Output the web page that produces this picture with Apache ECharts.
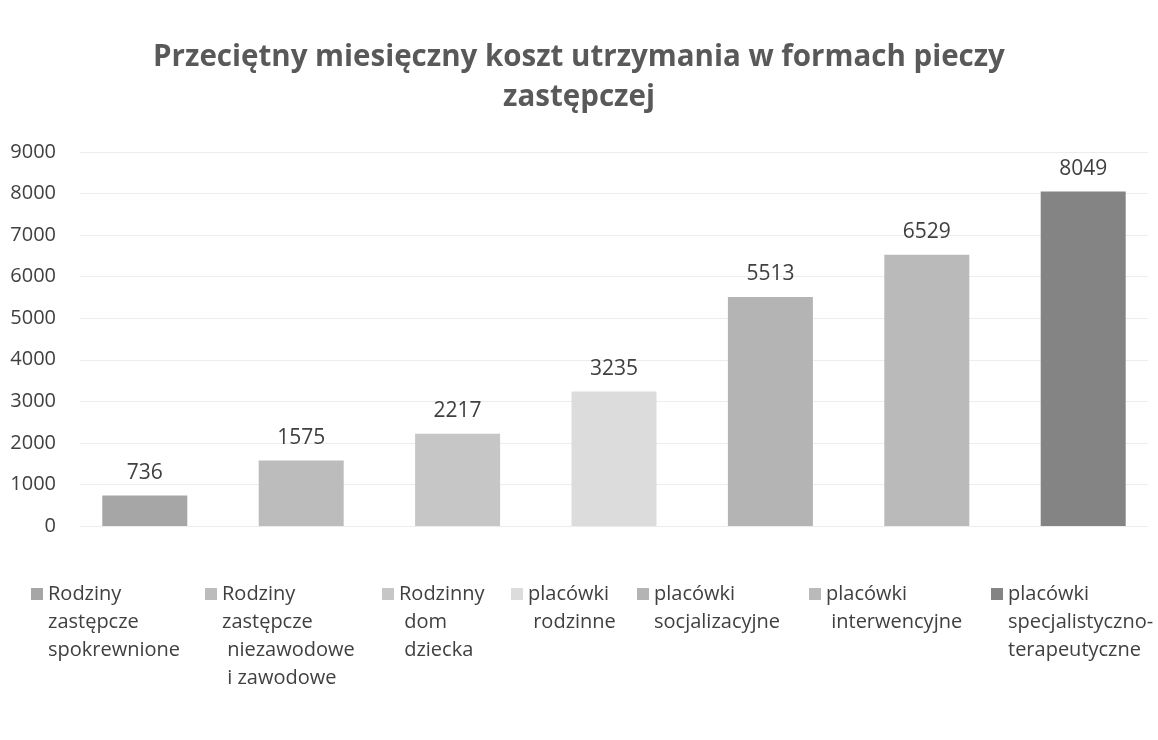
<!DOCTYPE html>
<html>
<head>
<meta charset="utf-8">
<title>Przeciętny miesięczny koszt utrzymania</title>
<script src="https://cdn.jsdelivr.net/npm/echarts@6/dist/echarts.min.js"></script>
<style>
    html, body { margin: 0; padding: 0; background: #fff; }
    #costChart { width: 1158px; height: 740px; }
</style>
</head>
<body>
<div id="costChart"></div>
<script>
// dane z wykresu
var names = [
    'Rodziny\nzastępcze\nspokrewnione',
    'Rodziny\nzastępcze\n niezawodowe\n i zawodowe',
    'Rodzinny\n dom\n dziecka',
    'placówki\n rodzinne',
    'placówki\nsocjalizacyjne',
    'placówki\n interwencyjne',
    'placówki\nspecjalistyczno-\nterapeutyczne'
];
var values = [736, 1575, 2217, 3235, 5513, 6529, 8049];
var yTicks = [0, 1000, 2000, 3000, 4000, 5000, 6000, 7000, 8000, 9000];

var colors = ['#a6a6a6', '#bcbcbc', '#c6c6c6', '#dcdcdc', '#b4b4b4', '#bababa', '#848484'];
var legendLeft = [31, 205, 382, 511, 637, 809, 991];
var font = 'Open Sans';
var lineH = 28;

var myChart = echarts.init(document.getElementById('costChart'));

var series = [];
var legends = [];
for (var i = 0; i < names.length; i++) {
    series.push({
        name: names[i],
        type: 'bar',
        data: [values[i]],
        barWidth: 85,
        barGap: '84%',
        itemStyle: { color: colors[i] },
        label: {
            show: true,
            position: 'top',
            distance: 12,
            color: '#404040',
            fontFamily: font,
            fontSize: 21
        }
    });
    // osobna legenda dla każdej serii; puste linie na górze,
    // żeby pierwsza linia tekstu stała na wysokości ikony
    var n = names[i].split('\n').length;
    legends.push({
        data: [names[i]],
        left: legendLeft[i],
        top: 594 - (2 * n - 1) * (lineH / 2),
        padding: 0,
        itemWidth: 12,
        itemHeight: 12,
        icon: 'rect',
        selectedMode: false,
        formatter: function (name) {
            var k = name.split('\n').length;
            return new Array(k).join(' \n') + name;
        },
        textStyle: {
            color: '#404040',
            fontFamily: font,
            fontSize: 20,
            lineHeight: lineH
        }
    });
}

var option = {
    backgroundColor: '#fff',
    animation: false,
    title: {
        text: 'Przeciętny miesięczny koszt utrzymania w formach pieczy\nzastępczej',
        left: 'center',
        top: 33,
        textStyle: {
            color: '#595959',
            fontFamily: font,
            fontSize: 29.5,
            fontWeight: 'bold',
            lineHeight: 40
        }
    },
    legend: legends,
    grid: {
        left: 80,
        right: 10,
        top: 152,
        bottom: 214
    },
    xAxis: {
        type: 'category',
        data: [''],
        axisLine: { show: false },
        axisTick: { show: false },
        axisLabel: { show: false }
    },
    yAxis: {
        type: 'value',
        min: yTicks[0],
        max: yTicks[yTicks.length - 1],
        interval: yTicks[1] - yTicks[0],
        axisLabel: {
            color: '#404040',
            fontFamily: font,
            fontSize: 20,
            margin: 24,
            formatter: function (v) { return String(v); }
        },
        splitLine: { lineStyle: { color: '#ececec', width: 1 } }
    },
    series: series
};

myChart.setOption(option);
</script>
</body>
</html>
